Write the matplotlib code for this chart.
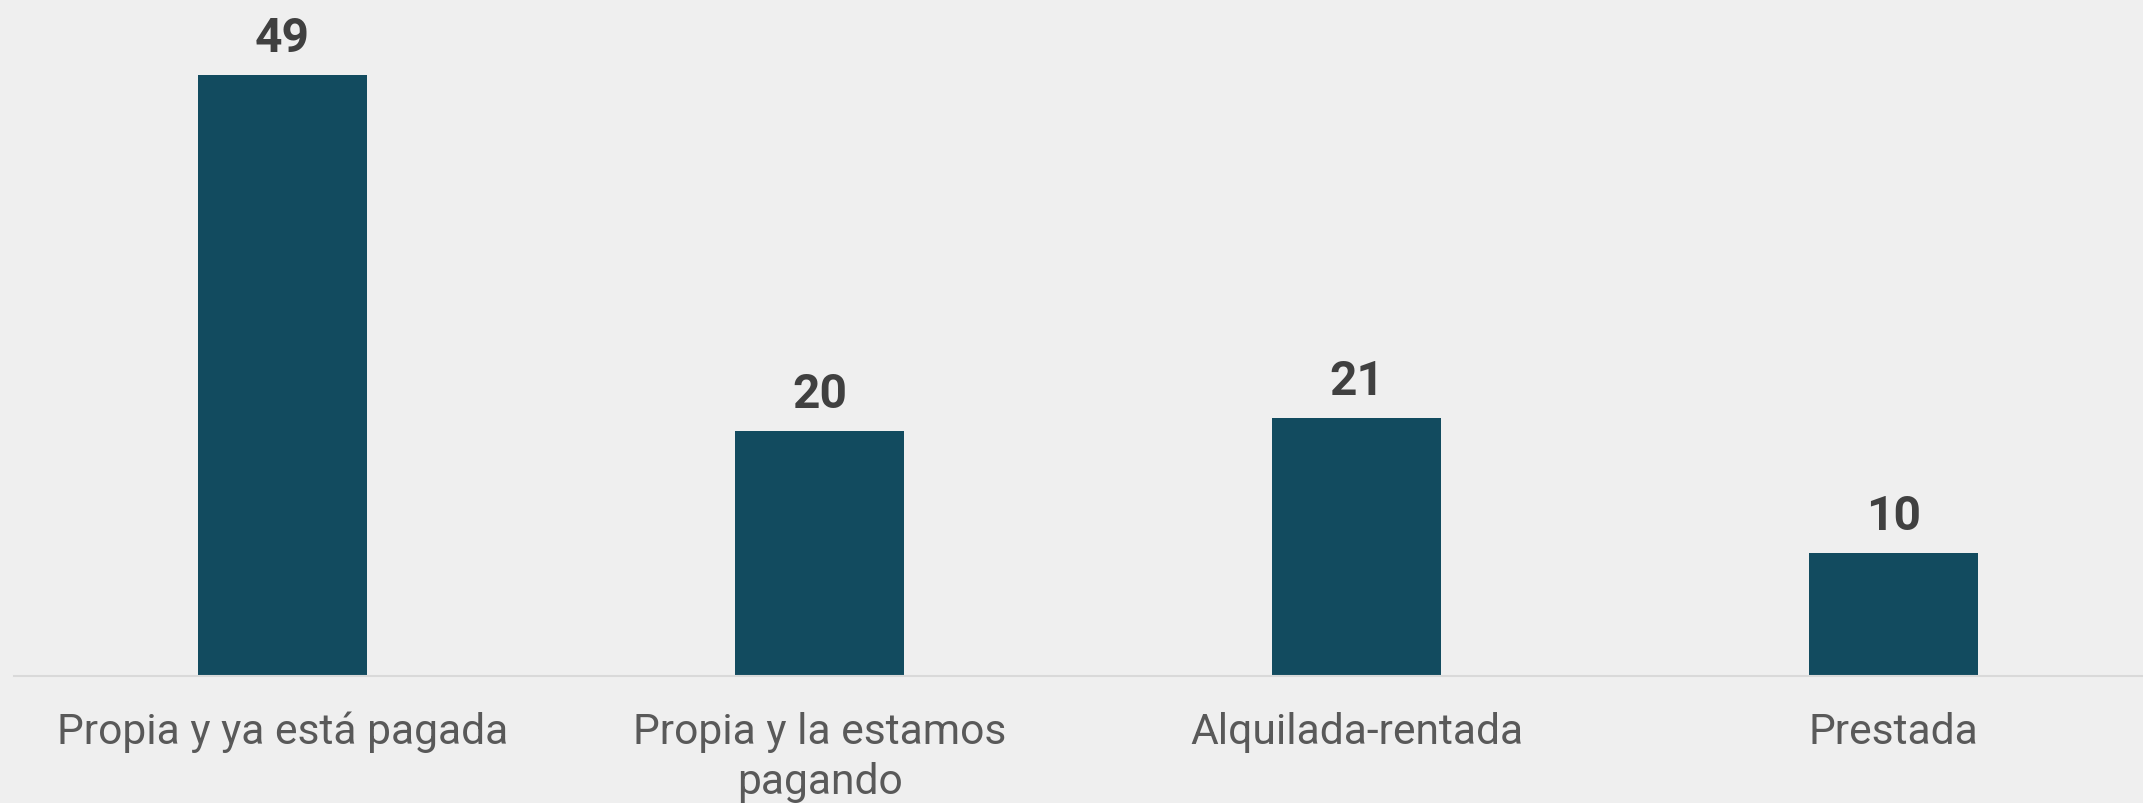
import matplotlib.pyplot as plt

categories = ["Propia y ya está pagada", "Propia y la estamos\npagando", "Alquilada-rentada", "Prestada"]
values = [49, 20, 21, 10]

bg = "#efefef"
bar_color = "#124b5f"

plt.rcParams['font.family'] = ['Roboto', 'DejaVu Sans']

fig = plt.figure(figsize=(21.43, 8.04), dpi=100, facecolor=bg)
# axes stretches a little past the right edge, like the original
ax = fig.add_axes([14 / 2143, 127 / 804, 2148 / 2143, 677 / 804])
ax.set_facecolor(bg)

x = range(len(categories))
bars = ax.bar(x, values, width=0.313, color=bar_color)

for b, v in zip(bars, values):
    ax.annotate(str(v), (b.get_x() + b.get_width() / 2, v),
                xytext=(0, 10), textcoords="offset points",
                ha="center", va="bottom", fontsize=34.5, fontweight="bold",
                color="#404040")

ax.set_xlim(-0.5, 3.5)
ax.set_ylim(0, 677 / 12.27)
ax.set_xticks(list(x))
ax.set_xticklabels(categories, fontsize=30.7, color="#595959", linespacing=1.3)
ax.tick_params(axis="x", length=0, pad=25)
ax.set_yticks([])

for s in ["top", "left", "right"]:
    ax.spines[s].set_visible(False)
ax.spines["bottom"].set_color("#d9d9d9")
ax.spines["bottom"].set_linewidth(1.5)

fig.savefig("out.png", dpi=100, facecolor=bg)
